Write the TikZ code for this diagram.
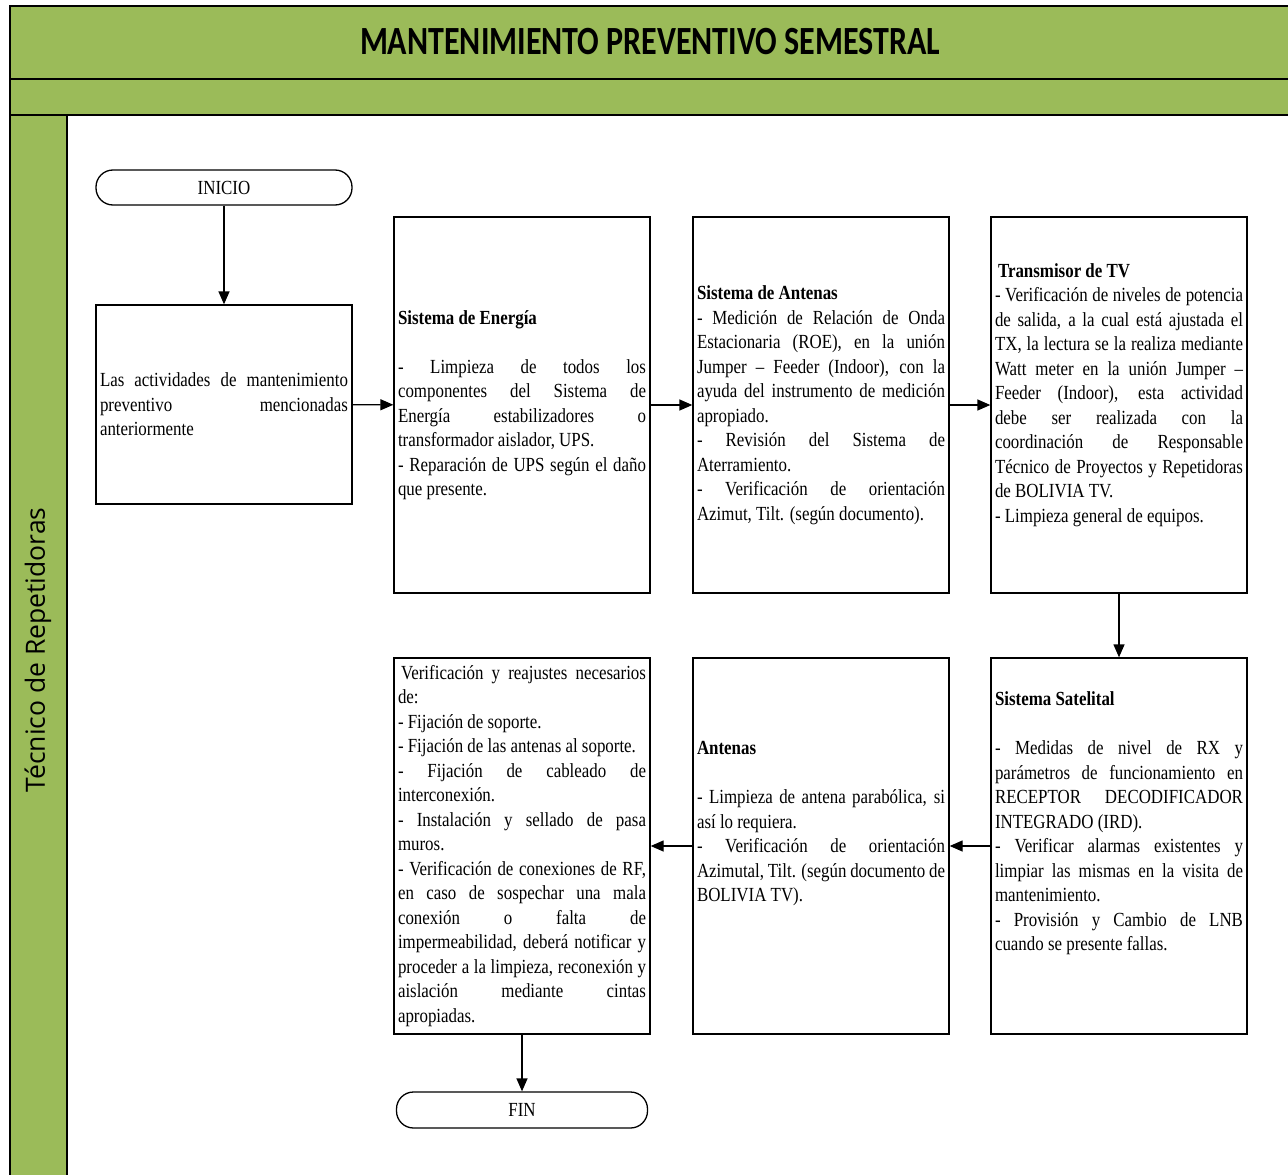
\documentclass[tikz,border=0pt]{standalone}
\usepackage{fontspec}
\setmainfont{Liberation Serif}[FakeStretch=0.845]
\newfontfamily\titulofont{Carlito}[FakeStretch=0.8]
\newfontfamily\carrilfont{Open Sans}
\usepackage{tikz}
\usetikzlibrary{arrows.meta}
\definecolor{verdecarril}{RGB}{155,187,89}
\setlength{\parindent}{0pt}
\tolerance=10000
\hyphenpenalty=10000

\tikzset{
  proceso/.style={draw, line width=1.3pt, text width=248pt, inner sep=4pt,
    minimum height=376pt, align=justify, font=\fontsize{20}{24.5}\selectfont},
  terminal/.style={draw, line width=1.3pt, rounded corners=17pt, minimum width=256pt,
    minimum height=35pt, inner sep=0pt, font=\fontsize{20}{24}\selectfont},
  flecha/.style={-{Triangle[length=13pt,width=11pt]}, line width=1.3pt},
  banda/.style={fill=verdecarril, draw, line width=1.3pt}
}

\begin{document}
\begin{tikzpicture}[x=1pt, y=-1pt]
    \useasboundingbox (0,0) rectangle (1288,1175);
    % encabezado y carril
    \draw[banda] (10,6) rectangle (1295,79);
    \draw[banda] (10,79) rectangle (1295,115);
    \draw[banda] (10,115) rectangle (67,1185);
    \node (titulo) at (650,42) {\titulofont\bfseries\fontsize{40}{48}\selectfont MANTENIMIENTO PREVENTIVO SEMESTRAL};
    \node[rotate=90] (carril) at (38,650) {\carrilfont\fontsize{26.5}{30}\selectfont Técnico de Repetidoras};

    % fila superior
    \node[terminal] (inicio) at (224,187.5) {INICIO};
    \node[proceso, minimum height=199pt] (actividades) at (224,404.5) {Las actividades de mantenimiento\linebreak
        preventivo mencionadas\linebreak
        anteriormente};
    \node[proceso] (energia) at (522,405) {\textbf{Sistema de Energía}\par\mbox{}\par
        - Limpieza de todos los\linebreak
        componentes del Sistema de\linebreak
        Energía estabilizadores o\linebreak
        transformador aislador, UPS.\par
        - Reparación de UPS según el daño\linebreak
        que presente.};
    \node[proceso] (antenas) at (821,405) {\textbf{Sistema de Antenas}\par
        - Medición de Relación de Onda\linebreak
        Estacionaria (ROE), en la unión\linebreak
        Jumper – Feeder (Indoor), con la\linebreak
        ayuda del instrumento de medición\linebreak
        apropiado.\par
        - Revisión del Sistema de\linebreak
        Aterramiento.\par
        - Verificación de orientación\linebreak
        Azimut, Tilt. (según documento).};
    \node[proceso] (transmisor) at (1119,405) {\hspace*{3pt}\textbf{Transmisor de TV}\par
        - Verificación de niveles de potencia\linebreak
        de salida, a la cual está ajustada el\linebreak
        TX, la lectura se la realiza mediante\linebreak
        Watt meter en la unión Jumper –\linebreak
        Feeder (Indoor), esta actividad\linebreak
        debe ser realizada con la\linebreak
        coordinación de Responsable\linebreak
        Técnico de Proyectos y Repetidoras\linebreak
        de BOLIVIA TV.\par
        - Limpieza general de equipos.\par\mbox{}};

    % fila inferior
    \node[proceso] (satelital) at (1119,846) {\textbf{Sistema Satelital}\par\mbox{}\par
        - Medidas de nivel de RX y\linebreak
        parámetros de funcionamiento en\linebreak
        RECEPTOR DECODIFICADOR\linebreak
        INTEGRADO (IRD).\par
        - Verificar alarmas existentes y\linebreak
        limpiar las mismas en la visita de\linebreak
        mantenimiento.\par
        - Provisión y Cambio de LNB\linebreak
        cuando se presente fallas.\par\mbox{}\par\mbox{}};
    \node[proceso] (parabolica) at (821,846) {\textbf{Antenas}\par\mbox{}\par
        - Limpieza de antena parabólica, si\linebreak
        así lo requiera.\par
        - Verificación de orientación\linebreak
        Azimutal, Tilt. (según documento de\linebreak
        BOLIVIA TV).\par\mbox{}\par\mbox{}};
    \node[proceso] (reajustes) at (522,846) {\hspace*{3pt}Verificación y reajustes necesarios\linebreak
        de:\par
        - Fijación de soporte.\par
        - Fijación de las antenas al soporte.\par
        - Fijación de cableado de\linebreak
        interconexión.\par
        - Instalación y sellado de pasa\linebreak
        muros.\par
        - Verificación de conexiones de RF,\linebreak
        en caso de sospechar una mala\linebreak
        conexión o falta de\linebreak
        impermeabilidad, deberá notificar y\linebreak
        proceder a la limpieza, reconexión y\linebreak
        aislación mediante cintas\linebreak
        apropiadas.};
    \node[terminal, minimum width=251pt, minimum height=36pt] (fin) at (522,1110) {FIN};

    % conectores
    \draw[flecha] (inicio) -- (actividades);
    \draw[flecha] (actividades) -- (energia);
    \draw[flecha] (energia) -- (antenas);
    \draw[flecha] (antenas) -- (transmisor);
    \draw[flecha] (transmisor) -- (satelital);
    \draw[flecha] (satelital) -- (parabolica);
    \draw[flecha] (parabolica) -- (reajustes);
    \draw[flecha] (reajustes) -- (fin);
\end{tikzpicture}
\end{document}
